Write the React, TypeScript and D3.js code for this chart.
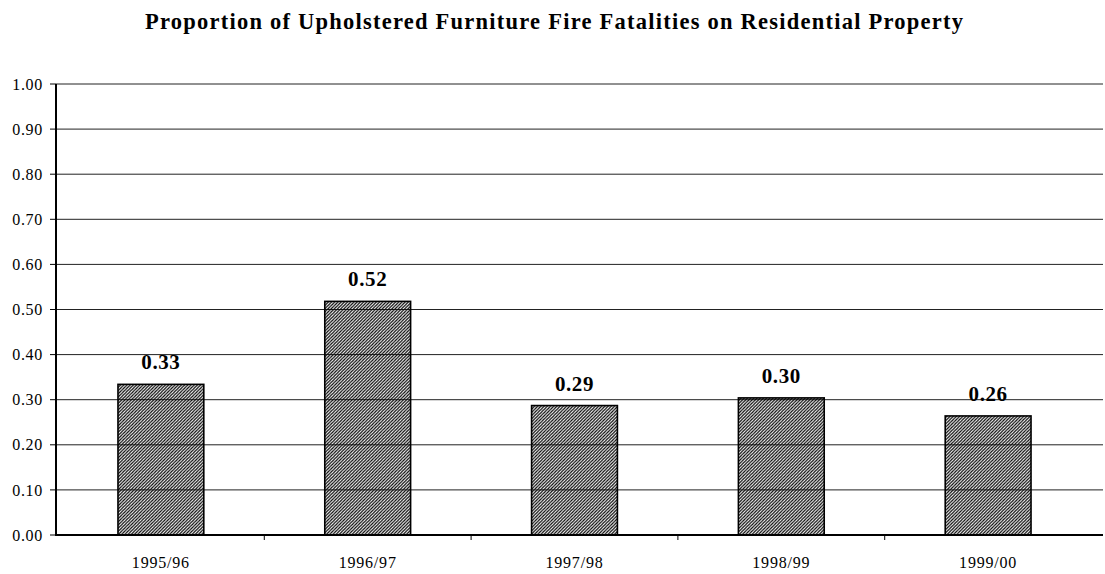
import React, { useEffect } from "react";
import * as d3 from "d3";

// chart data
const seasons = ["1995/96", "1996/97", "1997/98", "1998/99", "1999/00"];
const proportions = [0.334, 0.518, 0.287, 0.304, 0.264];
const yTicks = [0, 0.1, 0.2, 0.3, 0.4, 0.5, 0.6, 0.7, 0.8, 0.9, 1.0];
const title = "Proportion of Upholstered Furniture Fire Fatalities on Residential Property";

const W = 1105;
const H = 574;
const serif = "'Liberation Serif', 'Times New Roman', serif";

export default function App() {
  useEffect(() => {
    document.body.style.margin = "0";
  }, []);

  const margin = { top: 84, left: 56, bottom: 39 };
  const plotLeft = margin.left;
  const plotRight = 1091;
  const gridRight = 1103;
  const plotBottom = H - margin.bottom;

  const xScale = d3
    .scaleBand<string>()
    .domain(seasons)
    .range([plotLeft + 2, plotRight])
    .paddingInner(0.585)
    .paddingOuter(0.29);

  const yScale = d3.scaleLinear().domain([0, 1]).range([plotBottom, margin.top]);
  const fmt = d3.format(".2f");

  // boundaries between categories (x-axis tick marks)
  const step = xScale.step();
  const boundaries = seasons.map((s) => (xScale(s) as number) + xScale.bandwidth() / 2 - step / 2);

  return (
    <svg width={W} height={H} style={{ display: "block", background: "white" }}>
      <defs>
        <pattern id="hatch" patternUnits="userSpaceOnUse" width={3.2} height={3.2}>
          <path
            d="M-0.8,0.8 l1.6,-1.6 M0,3.2 l3.2,-3.2 M2.4,4 l1.6,-1.6"
            stroke="#000"
            strokeWidth={1.2}
          />
        </pattern>
      </defs>

      <text
        x={554}
        y={29}
        textAnchor="middle"
        fontFamily={serif}
        fontWeight="bold"
        fontSize={22.5}
        textLength={818}
        lengthAdjust="spacing"
      >
        {title}
      </text>

      {/* gridlines */}
      <g className="grid">
        {yTicks.map((t) => (
          <line
            key={t}
            x1={plotLeft}
            x2={gridRight}
            y1={yScale(t)}
            y2={yScale(t)}
            stroke="#222"
            strokeWidth={1}
          />
        ))}
      </g>

      {/* y axis */}
      <g className="y-axis">
        <line x1={plotLeft} x2={plotLeft} y1={yScale(1)} y2={plotBottom} stroke="black" strokeWidth={2} />
        {yTicks.map((t) => (
          <g key={t} transform={`translate(0,${yScale(t)})`}>
            <line x1={plotLeft - 6} x2={plotLeft} stroke="black" strokeWidth={1} />
            <text
              x={43}
              dy="0.35em"
              textAnchor="end"
              fontFamily={serif}
              fontSize={16}
              letterSpacing={0.7}
            >
              {fmt(t)}
            </text>
          </g>
        ))}
      </g>

      {/* bars */}
      <g className="bars">
        {seasons.map((s, i) => (
          <rect
            key={s}
            x={xScale(s)}
            y={yScale(proportions[i])}
            width={xScale.bandwidth()}
            height={plotBottom - yScale(proportions[i])}
            fill="url(#hatch)"
            stroke="black"
            strokeWidth={1.6}
          />
        ))}
      </g>

      {/* value labels */}
      <g className="labels">
        {seasons.map((s, i) => (
          <text
            key={s}
            x={(xScale(s) as number) + xScale.bandwidth() / 2}
            y={yScale(proportions[i]) - 15}
            textAnchor="middle"
            fontFamily={serif}
            fontWeight="bold"
            fontSize={21}
            letterSpacing={0.6}
          >
            {fmt(proportions[i])}
          </text>
        ))}
      </g>

      {/* x axis */}
      <g className="x-axis">
        <line x1={plotLeft - 1} x2={gridRight} y1={plotBottom} y2={plotBottom} stroke="black" strokeWidth={2} />
        {boundaries.slice(1).map((bx, i) => (
          <line key={i} x1={bx} x2={bx} y1={plotBottom} y2={plotBottom + 5} stroke="black" strokeWidth={1} />
        ))}
        {seasons.map((s) => (
          <text
            key={s}
            x={(xScale(s) as number) + xScale.bandwidth() / 2}
            y={568}
            textAnchor="middle"
            fontFamily={serif}
            fontSize={16}
            letterSpacing={0.8}
          >
            {s}
          </text>
        ))}
      </g>
    </svg>
  );
}
